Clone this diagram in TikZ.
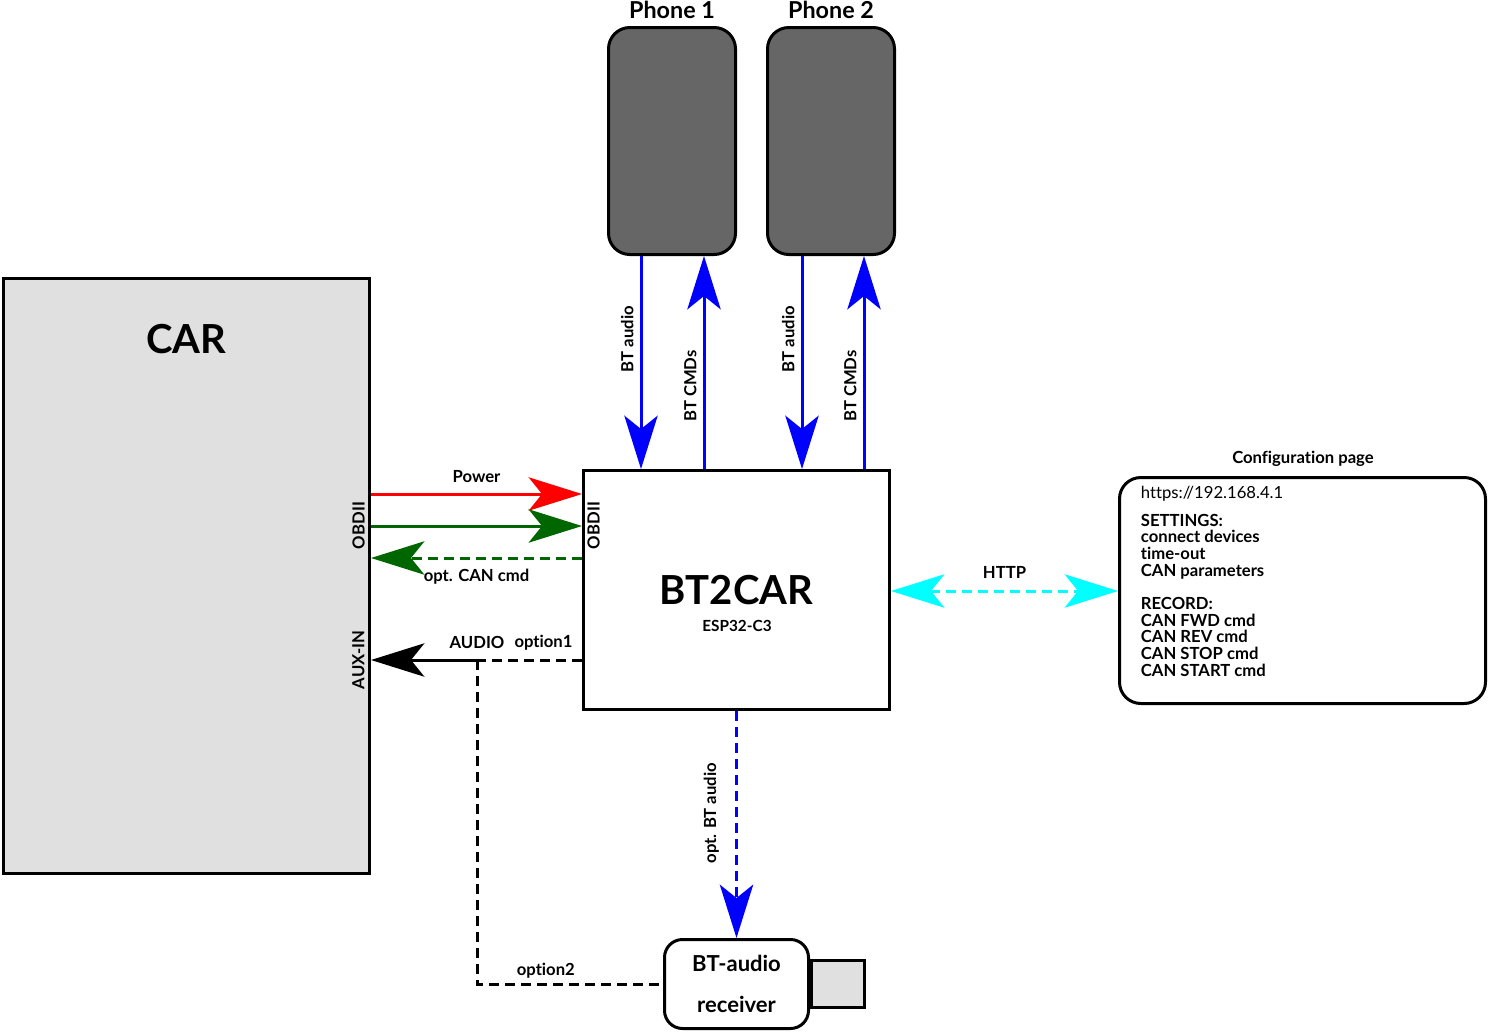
\documentclass[tikz,border=0pt]{standalone}
\usepackage{fontspec}
\setmainfont{Lato}[Ligatures=NoCommon]
\usetikzlibrary{arrows.meta}

\definecolor{phonegray}{RGB}{102,102,102}
\definecolor{cargray}{RGB}{224,224,224}
\definecolor{pwrred}{RGB}{255,0,0}
\definecolor{cangreen}{RGB}{0,102,0}
\definecolor{btblue}{RGB}{0,0,255}
\definecolor{httpcyan}{RGB}{0,255,255}

\tikzset{
  >={Stealth[length=40pt,width=25pt,inset=10pt]},
  box/.style={draw, line width=2.25pt, inner sep=0pt},
  phone/.style={box, fill=phonegray, rounded corners=16pt, minimum width=95.25pt, minimum height=170.25pt},
  carbox/.style={box, fill=cargray, minimum width=274.5pt, minimum height=446.25pt},
  mainbox/.style={box, fill=white, minimum width=229.5pt, minimum height=179.25pt, font=\fontsize{30}{36}\selectfont\bfseries},
  rxbox/.style={box, fill=white, rounded corners=13.5pt, minimum width=108pt, minimum height=66.75pt, align=center, font=\fontsize{16.5}{30.75}\selectfont\bfseries},
  plugbox/.style={box, fill=cargray, minimum width=39.75pt, minimum height=35.25pt},
  cfgbox/.style={box, fill=white, rounded corners=16pt, minimum width=274.5pt, minimum height=169.5pt},
  wire/.style={line width=2.25pt},
  dashwire/.style={wire, dash pattern=on 7.5pt off 4.5pt},
  lbl/.style={text=black, font=\fontsize{12.5}{14}\selectfont\bfseries, inner sep=2pt},
  vlbl/.style={lbl, rotate=90, anchor=south, inner sep=4.5pt},
  ptitle/.style={font=\fontsize{17.5}{20}\selectfont\bfseries, inner sep=0pt},
  bigtitle/.style={font=\fontsize{30}{36}\selectfont\bfseries, inner sep=0pt},
  cfgtxt/.style={anchor=north west, align=left, inner sep=2pt, font=\fontsize{12.5}{12.5}\selectfont\bfseries},
}

\begin{document}
\begin{tikzpicture}[x=0.75pt,y=0.75pt,yscale=-1,xscale=1]
\useasboundingbox (0,0) rectangle (1489,1032);

% Boxes
\node[phone] (phone1) at (672,141) {};
\node[phone] (phone2) at (831,141) {};
\node[carbox] (car) at (186.5,576) {};
\node[mainbox] (bt) at (736.5,590) {BT2CAR};
\node[rxbox] (rx) at (736.5,984) {BT-audio\\receiver};
\node[plugbox, anchor=west] (plug) at (rx.east) {};
\node[cfgbox] (cfg) at (1302.5,590.5) {};

% Lanes and rows
\coordinate (l1) at (641,0);
\coordinate (l2) at (704,0);
\coordinate (l3) at (802,0);
\coordinate (l4) at (864,0);
\coordinate (rPow) at (0,494);
\coordinate (rCan) at (0,526);
\coordinate (rOpt) at (0,558);
\coordinate (rHttp) at (0,591);
\coordinate (rAud) at (0,660);
\coordinate (jn) at (477,660);

% Phone links
\draw[wire, btblue, ->] (phone1.south -| l1) -- (bt.north -| l1) node[vlbl, pos=0.39] (au1) {BT audio};
\draw[wire, btblue, ->] (bt.north -| l2) -- (phone1.south -| l2) node[vlbl, pos=0.39] (cm1) {BT CMDs};
\draw[wire, btblue, ->] (phone2.south -| l3) -- (bt.north -| l3) node[vlbl, pos=0.39] (au2) {BT audio};
\draw[wire, btblue, ->] (bt.north -| l4) -- (phone2.south -| l4) node[vlbl, pos=0.39] (cm2) {BT CMDs};

% Car links
\draw[wire, pwrred, ->] (car.east |- rPow) -- (bt.west |- rPow) node[lbl, midway, above=5.5pt] (pow) {Power};
\draw[wire, cangreen, ->] (car.east |- rCan) -- (bt.west |- rCan);
\draw[dashwire, cangreen, ->] (bt.west |- rOpt) -- (car.east |- rOpt) node[lbl, midway, below=5pt] (canl) {opt. CAN cmd};

% Audio out
\draw[dashwire] (bt.west |- rAud) -- (jn) node[lbl, pos=0, above left=4pt] (opt1) {option1};
\draw[wire, ->] (jn) -- (car.east |- rAud) node[lbl, pos=0, above=5.5pt] (aud) {AUDIO};
\draw[dashwire] (jn) |- (rx.west) node[lbl, pos=0.685, above=1pt] (opt2) {option2};
\draw[dashwire, btblue, ->] (bt.south) -- (rx.north) node[vlbl, pos=0.45, inner sep=12pt] (optbt) {opt. BT audio};

% Config
\draw[dashwire, httpcyan, <->] (bt.east |- rHttp) -- (cfg.west |- rHttp) node[lbl, midway, above=6pt] (http) {HTTP};

% Text
\node[ptitle] (ph1t) at (672,9.5) {Phone 1};
\node[ptitle] (ph2t) at (831,9.5) {Phone 2};
\node[bigtitle] (cart) at (186,339) {CAR};
\node[lbl, font=\fontsize{11.5}{13}\selectfont\bfseries] (esp) at (737,625.5) {ESP32-C3};
\node[lbl, rotate=90] (obdcar) at (358.5,525.5) {OBDII};
\node[lbl, rotate=90] (obdbt) at (593.5,525.5) {OBDII};
\node[lbl, rotate=90] (auxin) at (358.5,660) {AUX-IN};
\node[lbl] (cfgt) at (1303,459) {Configuration page};
\node[cfgtxt] (cfgx) at (1138,483) {{\mdseries https://192.168.4.1}\\[8.5pt]
  SETTINGS:\\
  connect devices\\
  time-out\\
  CAN parameters\\[12.5pt]
  RECORD:\\
  CAN FWD cmd\\
  CAN REV cmd\\
  CAN STOP cmd\\
  CAN START cmd};

\end{tikzpicture}
\end{document}
